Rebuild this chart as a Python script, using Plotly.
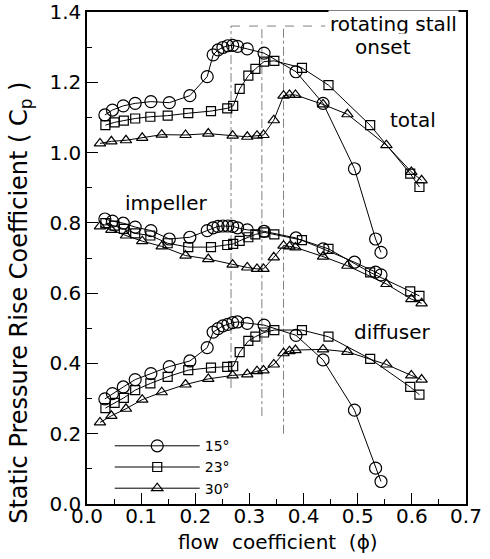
import plotly.graph_objects as go

# ---- data ----
phi_15 = [0.033, 0.047, 0.067, 0.089, 0.118, 0.152, 0.190, 0.222, 0.233, 0.242, 0.251,
          0.260, 0.269, 0.278, 0.296, 0.327, 0.386, 0.436, 0.494, 0.533, 0.543]
total_15 = [1.107, 1.121, 1.133, 1.140, 1.145, 1.142, 1.162, 1.216, 1.278, 1.292, 1.299,
            1.304, 1.305, 1.302, 1.295, 1.283, 1.230, 1.140, 0.954, 0.754, 0.716]
impeller_15 = [0.811, 0.805, 0.799, 0.788, 0.778, 0.754, 0.759, 0.778, 0.786, 0.790, 0.791,
               0.791, 0.790, 0.786, 0.780, 0.776, 0.757, 0.726, 0.688, 0.660, 0.652]
diffuser_15 = [0.299, 0.314, 0.333, 0.354, 0.371, 0.391, 0.407, 0.445, 0.489, 0.499, 0.507,
               0.511, 0.516, 0.518, 0.514, 0.509, 0.480, 0.410, 0.267, 0.102, 0.064]

phi_23 = [0.034, 0.051, 0.068, 0.089, 0.117, 0.149, 0.187, 0.229, 0.259, 0.270, 0.282,
          0.298, 0.311, 0.327, 0.346, 0.397, 0.446, 0.523, 0.597, 0.614]
total_23 = [1.078, 1.086, 1.091, 1.097, 1.102, 1.105, 1.112, 1.118, 1.126, 1.133, 1.181,
            1.219, 1.238, 1.259, 1.261, 1.241, 1.192, 1.078, 0.940, 0.902]
impeller_23 = [0.799, 0.792, 0.783, 0.770, 0.764, 0.742, 0.731, 0.731, 0.737, 0.740, 0.749,
               0.759, 0.767, 0.773, 0.767, 0.751, 0.726, 0.659, 0.605, 0.592]
diffuser_23 = [0.273, 0.288, 0.302, 0.324, 0.343, 0.362, 0.381, 0.388, 0.390, 0.392, 0.432,
               0.464, 0.476, 0.488, 0.495, 0.495, 0.476, 0.413, 0.333, 0.311]

phi_30 = [0.024, 0.045, 0.072, 0.102, 0.138, 0.182, 0.224, 0.269, 0.296, 0.314, 0.326,
          0.345, 0.363, 0.374, 0.385, 0.436, 0.481, 0.553, 0.599, 0.618]
total_30 = [1.026, 1.032, 1.035, 1.042, 1.051, 1.050, 1.054, 1.048, 1.045, 1.048, 1.050,
            1.092, 1.162, 1.164, 1.164, 1.137, 1.109, 1.021, 0.945, 0.921]
impeller_30 = [0.790, 0.780, 0.764, 0.748, 0.733, 0.707, 0.697, 0.681, 0.673, 0.669, 0.669,
               0.702, 0.735, 0.733, 0.730, 0.704, 0.678, 0.626, 0.583, 0.571]
diffuser_30 = [0.232, 0.251, 0.271, 0.297, 0.318, 0.340, 0.356, 0.366, 0.369, 0.378, 0.380,
               0.397, 0.429, 0.435, 0.438, 0.440, 0.433, 0.397, 0.366, 0.354]

series_names = ["15°", "23°", "30°"]
stall_onset_phi = [0.266, 0.323, 0.363]
stall_line_top = 1.36
stall_line_bottom = [0.33, 0.25, 0.20]
stall_label_phi = 0.44

x_ticks = [0.0, 0.1, 0.2, 0.3, 0.4, 0.5, 0.6, 0.7]
y_ticks = [0.0, 0.2, 0.4, 0.6, 0.8, 1.0, 1.2, 1.4]

FONT = "DejaVu Sans"
symbols = ["circle-open", "square-open", "triangle-up-open"]
sizes = [12, 9, 10]

fig = go.Figure()

groups = [
    (phi_15, [total_15, impeller_15, diffuser_15]),
    (phi_23, [total_23, impeller_23, diffuser_23]),
    (phi_30, [total_30, impeller_30, diffuser_30]),
]
for i, (phi, comps) in enumerate(groups):
    for j, cp in enumerate(comps):
        fig.add_trace(go.Scatter(
            x=phi, y=cp, mode="lines+markers",
            name=series_names[i], legendgroup=series_names[i],
            showlegend=(j == 0),
            line=dict(color="black", width=1),
            marker=dict(symbol=symbols[i], size=sizes[i], color="black",
                        line=dict(color="black", width=1.2)),
        ))

# rotating stall onset markers (dash-dot lines)
for xv, yb in zip(stall_onset_phi, stall_line_bottom):
    fig.add_shape(type="line", xref="x", yref="y", x0=xv, x1=xv, y0=yb, y1=stall_line_top,
                  line=dict(color="#808080", width=1, dash="dashdot"), layer="below")
fig.add_shape(type="line", xref="x", yref="y", x0=stall_onset_phi[0], x1=stall_label_phi,
              y0=stall_line_top, y1=stall_line_top,
              line=dict(color="#808080", width=1, dash="dash"), layer="below")

annot_font = dict(family=FONT, size=20, color="black")
annots = [
    ("rotating stall", 0.566, 1.366),
    ("onset", 0.547, 1.30),
    ("total", 0.603, 1.093),
    ("impeller", 0.146, 0.857),
    ("diffuser", 0.564, 0.49),
]
for txt, ax_, ay_ in annots:
    fig.add_annotation(x=ax_, y=ay_, xref="x", yref="y", text=txt, showarrow=False,
                       font=annot_font, bgcolor="white", xanchor="center", yanchor="middle")

# axis titles
fig.add_annotation(x=0.504, y=-0.077, xref="paper", yref="paper",
                   text="flow  coefficient  (ϕ)", showarrow=False,
                   font=dict(family=FONT, size=20, color="black"),
                   xanchor="center", yanchor="middle")
fig.add_annotation(x=-0.174, y=0.409, xref="paper", yref="paper",
                   text="Static Pressure Rise Coefficient ( C<sub>p</sub> )", showarrow=False,
                   textangle=-90, font=dict(family=FONT, size=24, color="black"),
                   xanchor="center", yanchor="middle")

fig.update_layout(
    width=490, height=559,
    margin=dict(l=87, r=24, t=12, b=55, autoexpand=False),
    paper_bgcolor="white", plot_bgcolor="white",
    font=dict(family=FONT, color="black"),
    showlegend=True,
    legend=dict(x=0.06, y=0.15, xanchor="left", yanchor="top",
                bgcolor="rgba(0,0,0,0)", font=dict(family=FONT, size=14),
                itemwidth=85, tracegroupgap=0),
)
fig.update_xaxes(
    range=[0, 0.7], tickvals=x_ticks, ticktext=[f"{v:.1f}" for v in x_ticks],
    showgrid=False, zeroline=False, showline=True, linecolor="black", linewidth=1.5,
    mirror=True, ticks="inside", ticklen=11, tickwidth=1, tickcolor="black",
    minor=dict(dtick=0.05, ticks="inside", ticklen=5, tickcolor="black", showgrid=False),
    tickfont=dict(family=FONT, size=20), ticklabelstandoff=-7, automargin=False,
)
fig.update_yaxes(
    range=[0, 1.4], tickvals=y_ticks, ticktext=[f"{v:.1f}" for v in y_ticks],
    showgrid=False, zeroline=False, showline=True, linecolor="black", linewidth=1.5,
    mirror=True, ticks="inside", ticklen=11, tickwidth=1, tickcolor="black",
    minor=dict(dtick=0.1, ticks="inside", ticklen=5, tickcolor="black", showgrid=False),
    tickfont=dict(family=FONT, size=20), ticklabelstandoff=0, automargin=False,
)

fig.write_html("out.html", config={"displayModeBar": False},
               post_script="document.body.style.margin='0';")
